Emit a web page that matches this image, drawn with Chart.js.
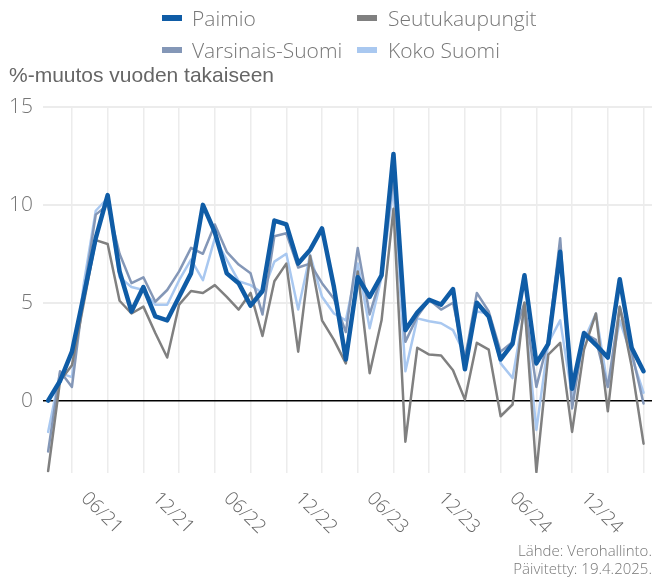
<!DOCTYPE html>
<html><head><meta charset="utf-8">
<script src="https://cdn.jsdelivr.net/npm/chart.js@4/dist/chart.umd.min.js"></script>
<style>
html,body{margin:0;padding:0;background:#fff;}
#wrap{position:relative;width:652px;height:578px;overflow:hidden;}
#c{position:absolute;left:0;top:0;}
.leg{position:absolute;font-family:'Open Sans',sans-serif;font-weight:300;font-size:21px;color:#777;line-height:22px;white-space:nowrap}
.sw{position:absolute;width:20px;height:6px}
#ytitle{position:absolute;left:9px;top:64px;font-family:'Liberation Sans',Arial,sans-serif;font-size:21px;color:#666;line-height:22px;white-space:nowrap}
#src{position:absolute;right:0;top:541px;text-align:right;font-family:'Open Sans',sans-serif;font-weight:300;font-size:15px;color:#777;line-height:18px;white-space:nowrap}
</style></head>
<body>
<div id="wrap">
<canvas id="c" width="652" height="578"></canvas>
<div class="sw" style="left:162px;top:15px;background:#0f5ca6"></div><div class="leg" style="left:192px;top:7px">Paimio</div>
<div class="sw" style="left:357px;top:15px;background:#808080"></div><div class="leg" style="left:388px;top:7px">Seutukaupungit</div>
<div class="sw" style="left:162px;top:47px;background:#8497b7"></div><div class="leg" style="left:192px;top:39px">Varsinais-Suomi</div>
<div class="sw" style="left:357px;top:47px;background:#a9c8f0"></div><div class="leg" style="left:388px;top:39px">Koko Suomi</div>
<div id="ytitle">%-muutos vuoden takaiseen</div>
<div id="src">Lähde: Verohallinto.<br>Päivitetty: 19.4.2025.</div>
</div>
<script>
const months = ['01/21','02/21','03/21','04/21','05/21','06/21','07/21','08/21','09/21','10/21','11/21','12/21',
'01/22','02/22','03/22','04/22','05/22','06/22','07/22','08/22','09/22','10/22','11/22','12/22',
'01/23','02/23','03/23','04/23','05/23','06/23','07/23','08/23','09/23','10/23','11/23','12/23',
'01/24','02/24','03/24','04/24','05/24','06/24','07/24','08/24','09/24','10/24','11/24','12/24',
'01/25','02/25','03/25'];
const xTickLabels = ['06/21','12/21','06/22','12/22','06/23','12/23','06/24','12/24'];
const gridMonths = ['03/21','06/21','09/21','12/21','03/22','06/22','09/22','12/22','03/23','06/23','09/23','12/23','03/24','06/24','09/24','12/24','03/25'];
const yTicks = [0,5,10,15];

const paimio = [0.0,1.0,2.5,5.4,8.3,10.5,6.6,4.55,5.8,4.3,4.1,5.3,6.5,10.0,8.6,6.5,6.0,4.85,5.6,9.2,9.0,7.0,7.7,8.8,5.8,2.1,6.3,5.3,6.4,12.6,3.6,4.5,5.15,4.9,5.7,1.6,5.0,4.3,2.1,2.9,6.4,1.9,2.9,7.6,0.6,3.45,2.85,2.2,6.2,2.7,1.5];
const seutukaupungit = [-3.6,1.0,1.8,5.0,8.2,8.0,5.1,4.45,4.8,3.45,2.2,4.9,5.6,5.5,5.9,5.3,4.65,5.5,3.3,6.1,7.0,2.5,7.4,4.1,3.1,1.9,6.6,1.4,4.1,9.8,-2.1,2.7,2.35,2.3,1.55,0.05,2.95,2.6,-0.8,-0.2,5.0,-3.65,2.35,2.95,-1.6,2.6,4.45,-0.55,4.8,1.75,-2.2];
const varsinaisSuomi = [-2.6,1.5,0.7,5.5,9.5,10.0,7.5,6.0,6.3,5.05,5.65,6.6,7.8,7.5,9.0,7.6,6.95,6.5,4.4,8.4,8.55,6.8,7.0,6.0,5.2,3.5,7.8,4.4,6.4,11.5,3.0,4.3,5.15,4.65,5.0,2.1,5.5,4.55,2.5,3.0,5.0,0.7,3.1,8.3,-0.4,3.45,3.1,0.7,4.8,2.5,-0.15];
const kokoSuomi = [-1.6,1.4,1.2,6.0,9.7,10.35,6.3,5.8,5.65,4.9,4.9,6.15,7.2,6.15,8.3,7.2,6.1,5.9,5.5,7.1,7.5,4.65,7.45,5.3,4.45,4.1,7.0,3.7,6.3,10.9,1.5,4.2,4.05,3.95,3.6,2.35,4.55,4.45,1.9,1.15,4.65,-1.5,2.95,4.1,0.2,3.1,4.45,0.7,4.1,2.25,0.4];

const toPts = arr => arr.map((v,i)=>({x:i,y:v}));

const xLabelPlugin = {
  id:'xlabels',
  afterDraw(chart){
    const ctx = chart.ctx, xs = chart.scales.x;
    ctx.save();
    ctx.font = '300 19px "Open Sans"';
    ctx.fillStyle = '#666666';
    ctx.textAlign = 'center';
    ctx.textBaseline = 'middle';
    xTickLabels.forEach(lab=>{
      const px = xs.getPixelForValue(months.indexOf(lab));
      ctx.save();
      ctx.translate(px-6, 513);
      ctx.rotate(Math.PI/4);
      ctx.fillText(lab,0,0);
      ctx.restore();
    });
    ctx.restore();
  }
};

new Chart(document.getElementById('c'), {
  type:'line',
  data:{
    datasets:[
      {label:'Paimio', data:toPts(paimio), borderColor:'#0f5ca6', borderWidth:4.5},
      {label:'Seutukaupungit', data:toPts(seutukaupungit), borderColor:'#808080', borderWidth:2.5},
      {label:'Varsinais-Suomi', data:toPts(varsinaisSuomi), borderColor:'#8497b7', borderWidth:2.5},
      {label:'Koko Suomi', data:toPts(kokoSuomi), borderColor:'#a9c8f0', borderWidth:2.5}
    ]
  },
  options:{
    responsive:false,
    animation:false,
    layout:{padding:{top:107,left:0,right:0,bottom:0}},
    elements:{point:{radius:0}, line:{tension:0, borderJoinStyle:'round', borderCapStyle:'round'}},
    plugins:{legend:{display:false}, tooltip:{enabled:false}},
    scales:{
      x:{
        type:'linear', min:-0.43, max:50.71,
        afterBuildTicks:s=>{ s.ticks = gridMonths.map(m=>({value:months.indexOf(m)})); },
        afterFit:s=>{ s.height = 105; },
        ticks:{display:false},
        grid:{color:'#ececec', lineWidth:1.5, drawTicks:false},
        border:{display:false}
      },
      y:{
        min:-3.7, max:15,
        afterBuildTicks:s=>{ s.ticks = yTicks.map(v=>({value:v})); },
        afterFit:s=>{ s.width = 43; },
        ticks:{color:'#777', font:{family:'Open Sans', size:21, weight:300}, padding:10},
        grid:{
          color:c=>c.tick && c.tick.value===0 ? '#000000' : '#ececec',
          lineWidth:c=>c.tick && c.tick.value===0 ? 1.5 : 2,
          drawTicks:false
        },
        border:{display:false}
      }
    }
  },
  plugins:[xLabelPlugin]
});
</script>
</body></html>
